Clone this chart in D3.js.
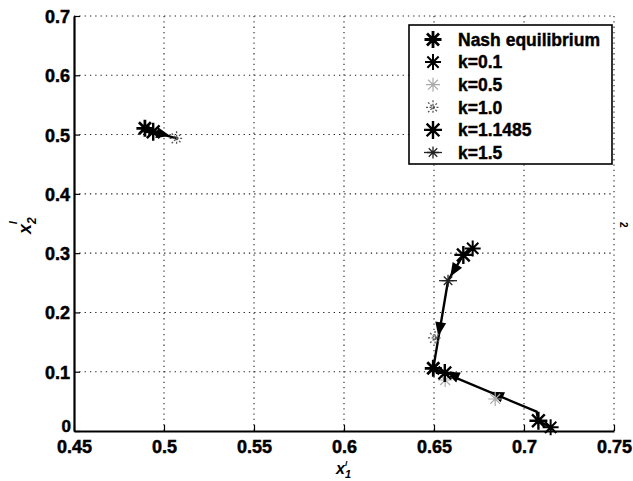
<!DOCTYPE html>
<html>
<head>
<meta charset="utf-8">
<script src="https://cdn.jsdelivr.net/npm/d3@7"></script>
<style>
    body { margin: 0; background: #fff; }
    svg text { font-family: "Liberation Sans", Arial, Helvetica, sans-serif; font-weight: bold; fill: #000; }
</style>
</head>
<body>
<svg id="chart" width="633" height="481"></svg>
<script>
    'use strict';

    // axes
    var xTicks = [0.45, 0.5, 0.55, 0.6, 0.65, 0.7, 0.75];
    var xTickLabels = ['0.45', '0.5', '0.55', '0.6', '0.65', '0.7', '0.75'];
    var yTicks = [0, 0.1, 0.2, 0.3, 0.4, 0.5, 0.6, 0.7];
    var yTickLabels = ['0', '0.1', '0.2', '0.3', '0.4', '0.5', '0.6', '0.7'];

    // legend entries, same order as the marker series below
    var seriesNames = ['Nash equilibrium', 'k=0.1', 'k=0.5', 'k=1.0', 'k=1.1485', 'k=1.5'];

    // marker points per series
    var nashX = [0.4894, 0.6496];
    var nashY = [0.5105, 0.1057];
    var k01X = [0.6715, 0.7148];
    var k01Y = [0.308, 0.0062];
    var k05X = [0.6562, 0.684];
    var k05Y = [0.086, 0.054];
    var k10X = [0.507, 0.6506];
    var k10Y = [0.4936, 0.157];
    var k11485X = [0.494, 0.6663, 0.708, 0.656];
    var k11485Y = [0.5047, 0.297, 0.0174, 0.098];
    var k15X = [0.6578];
    var k15Y = [0.2535];

    // trajectories (solid black lines)
    var trajAX = [0.6715, 0.6663, 0.6578, 0.6496];
    var trajAY = [0.308, 0.297, 0.2535, 0.1057];
    var trajBX = [0.7148, 0.708, 0.707, 0.6496];
    var trajBY = [0.0062, 0.0174, 0.0326, 0.1057];
    var trajCX = [0.4894, 0.494, 0.507];
    var trajCY = [0.5105, 0.5047, 0.4936];

    // arrow heads: tip and the point they come from
    var arrowTipX = [0.659, 0.6524, 0.6811, 0.6565, 0.5035];
    var arrowTipY = [0.260, 0.160, 0.0663, 0.100, 0.4975];
    var arrowFromX = [0.6663, 0.6578, 0.707, 0.6811, 0.494];
    var arrowFromY = [0.297, 0.2535, 0.0326, 0.0663, 0.5047];

    (function () {
        var seriesX = [nashX, k01X, k05X, k10X, k11485X, k15X];
        var seriesY = [nashY, k01Y, k05Y, k10Y, k11485Y, k15Y];

        var markerStyles = [
            { r: 8.5, color: '#000', width: 2.8 },
            { r: 8, color: '#000', width: 2 },
            { r: 7, color: '#aaa', width: 1.2 },
            { r: 7, color: '#555', width: 1.3, dash: '2,1.5' },
            { r: 9, color: '#000', width: 2.4 },
            { r: 6, color: '#222', width: 1.3, tail: 9 }
        ];

        var plotLeft = 74, plotRight = 614, plotTop = 16, plotBottom = 431;

        var scaleX = d3.scaleLinear().domain([0.45, 0.75]).range([plotLeft, plotRight]);
        var scaleY = d3.scaleLinear().domain([0, 0.7]).range([plotBottom, plotTop]);

        var chart = d3.select('#chart');

        function starPath(r) {
            var d = r * 0.707;
            return 'M' + (-r) + ',0H' + r + 'M0,' + (-r) + 'V' + r +
                'M' + (-d) + ',' + (-d) + 'L' + d + ',' + d +
                'M' + (-d) + ',' + d + 'L' + d + ',' + (-d);
        }

        function drawMarker(group, cx, cy, style) {
            var m = group.append('g').attr('transform', 'translate(' + cx + ',' + cy + ')');
            m.append('path')
                .attr('d', starPath(style.r))
                .attr('fill', 'none')
                .attr('stroke', style.color)
                .attr('stroke-width', style.width)
                .attr('stroke-dasharray', style.dash || null);
            if (style.tail) {
                m.append('path')
                    .attr('d', 'M' + (-style.tail) + ',0H' + style.tail)
                    .attr('stroke', style.color)
                    .attr('stroke-width', style.width);
            }
        }

        // grid
        var grid = chart.append('g').attr('class', 'grid')
            .attr('stroke', '#222').attr('stroke-width', 1.1).attr('stroke-dasharray', '1.3,4');

        grid.selectAll('line.gx')
            .data(xTicks.slice(1))
            .enter().append('line')
            .attr('class', 'gx')
            .attr('x1', function (d) { return scaleX(d); })
            .attr('x2', function (d) { return scaleX(d); })
            .attr('y1', plotTop)
            .attr('y2', plotBottom);

        grid.selectAll('line.gy')
            .data(yTicks.slice(1))
            .enter().append('line')
            .attr('class', 'gy')
            .attr('x1', plotLeft)
            .attr('x2', plotRight)
            .attr('y1', function (d) { return scaleY(d); })
            .attr('y2', function (d) { return scaleY(d); });

        // axes
        var xAxis = chart.append('g')
            .attr('class', 'x axis')
            .attr('transform', 'translate(0,' + plotBottom + ')')
            .call(d3.axisBottom(scaleX).tickValues(xTicks).tickSize(-6).tickSizeOuter(0)
                .tickFormat(function (d, i) { return xTickLabels[i]; }));

        var yAxis = chart.append('g')
            .attr('class', 'y axis')
            .attr('transform', 'translate(' + plotLeft + ',0)')
            .call(d3.axisLeft(scaleY).tickValues(yTicks).tickSize(-6).tickSizeOuter(0)
                .tickFormat(function (d, i) { return yTickLabels[i]; }));

        chart.selectAll('.axis path.domain').attr('stroke', '#000').attr('stroke-width', 2.2);
        chart.selectAll('.axis line').attr('stroke', '#000').attr('stroke-width', 1.2);
        chart.selectAll('.axis text')
            .attr('font-size', 18)
            .attr('font-family', '"Liberation Sans", Arial, sans-serif')
            .attr('font-weight', 'bold')
            .attr('fill', '#000')
            .attr('stroke', '#000')
            .attr('stroke-width', 0.5);
        xAxis.selectAll('text').attr('y', 9).attr('dy', '0.71em');
        yAxis.selectAll('text').attr('x', -4).attr('dy', '0.36em');
        // the zero label sits a little higher, clear of 0.45
        yAxis.selectAll('text').filter(function (d) { return d === 0; })
            .attr('x', -3).attr('dy', '0.05em').attr('font-size', 17);

        // trajectories
        var line = d3.line()
            .x(function (d) { return scaleX(d[0]); })
            .y(function (d) { return scaleY(d[1]); });

        var trajGroup = chart.append('g').attr('class', 'trajectories');
        [[trajAX, trajAY], [trajBX, trajBY], [trajCX, trajCY]].forEach(function (t) {
            trajGroup.append('path')
                .datum(d3.zip(t[0], t[1]))
                .attr('d', line)
                .attr('fill', 'none')
                .attr('stroke', '#000')
                .attr('stroke-width', 2.4);
        });

        // arrow heads
        arrowTipX.forEach(function (tx, i) {
            var x1 = scaleX(tx), y1 = scaleY(arrowTipY[i]);
            var x0 = scaleX(arrowFromX[i]), y0 = scaleY(arrowFromY[i]);
            var angle = Math.atan2(y1 - y0, x1 - x0) * 180 / Math.PI;
            trajGroup.append('path')
                .attr('d', 'M0,0L-14,-5.5L-14,5.5Z')
                .attr('fill', '#000')
                .attr('transform', 'translate(' + x1 + ',' + y1 + ')rotate(' + angle + ')');
        });

        // markers
        var markerGroup = chart.append('g').attr('class', 'markers');
        seriesX.forEach(function (xs, s) {
            xs.forEach(function (x, i) {
                drawMarker(markerGroup, scaleX(x), scaleY(seriesY[s][i]), markerStyles[s]);
            });
        });

        // legend
        var legend = chart.append('g').attr('class', 'legend');
        legend.append('rect')
            .attr('x', 409).attr('y', 25)
            .attr('width', 203).attr('height', 139)
            .attr('fill', '#fff')
            .attr('stroke', '#000')
            .attr('stroke-width', 1.6);

        seriesNames.forEach(function (name, i) {
            var y = 39.5 + i * 22.6;
            drawMarker(legend, 433, y, markerStyles[i]);
            legend.append('text')
                .attr('x', 458)
                .attr('y', y)
                .attr('dy', '0.36em')
                .attr('font-size', 17.5)
                .attr('stroke', '#000')
                .attr('stroke-width', 0.4)
                .text(name);
        });

        // axis labels
        var xLabel = chart.append('text')
            .attr('x', 336)
            .attr('y', 474)
            .attr('font-size', 16)
            .attr('font-style', 'italic');
        xLabel.append('tspan').text('x');
        xLabel.append('tspan').attr('font-size', 11).attr('dy', 4).text('1');
        xLabel.append('tspan').attr('font-size', 8).attr('dx', -6).attr('dy', -12).text('I');

        var yLabel = chart.append('text')
            .attr('transform', 'translate(31,234)rotate(-90)')
            .attr('font-size', 18)
            .attr('font-style', 'italic');
        yLabel.append('tspan').text('x');
        yLabel.append('tspan').attr('font-size', 12).attr('dy', 5).text('2');
        yLabel.append('tspan').attr('font-size', 11).attr('dx', -7).attr('dy', -19).text('I');

        // stray mark at the right edge
        chart.append('text')
            .attr('transform', 'translate(620,222)rotate(90)')
            .attr('font-size', 10)
            .text('2');
    })();
</script>
</body>
</html>
